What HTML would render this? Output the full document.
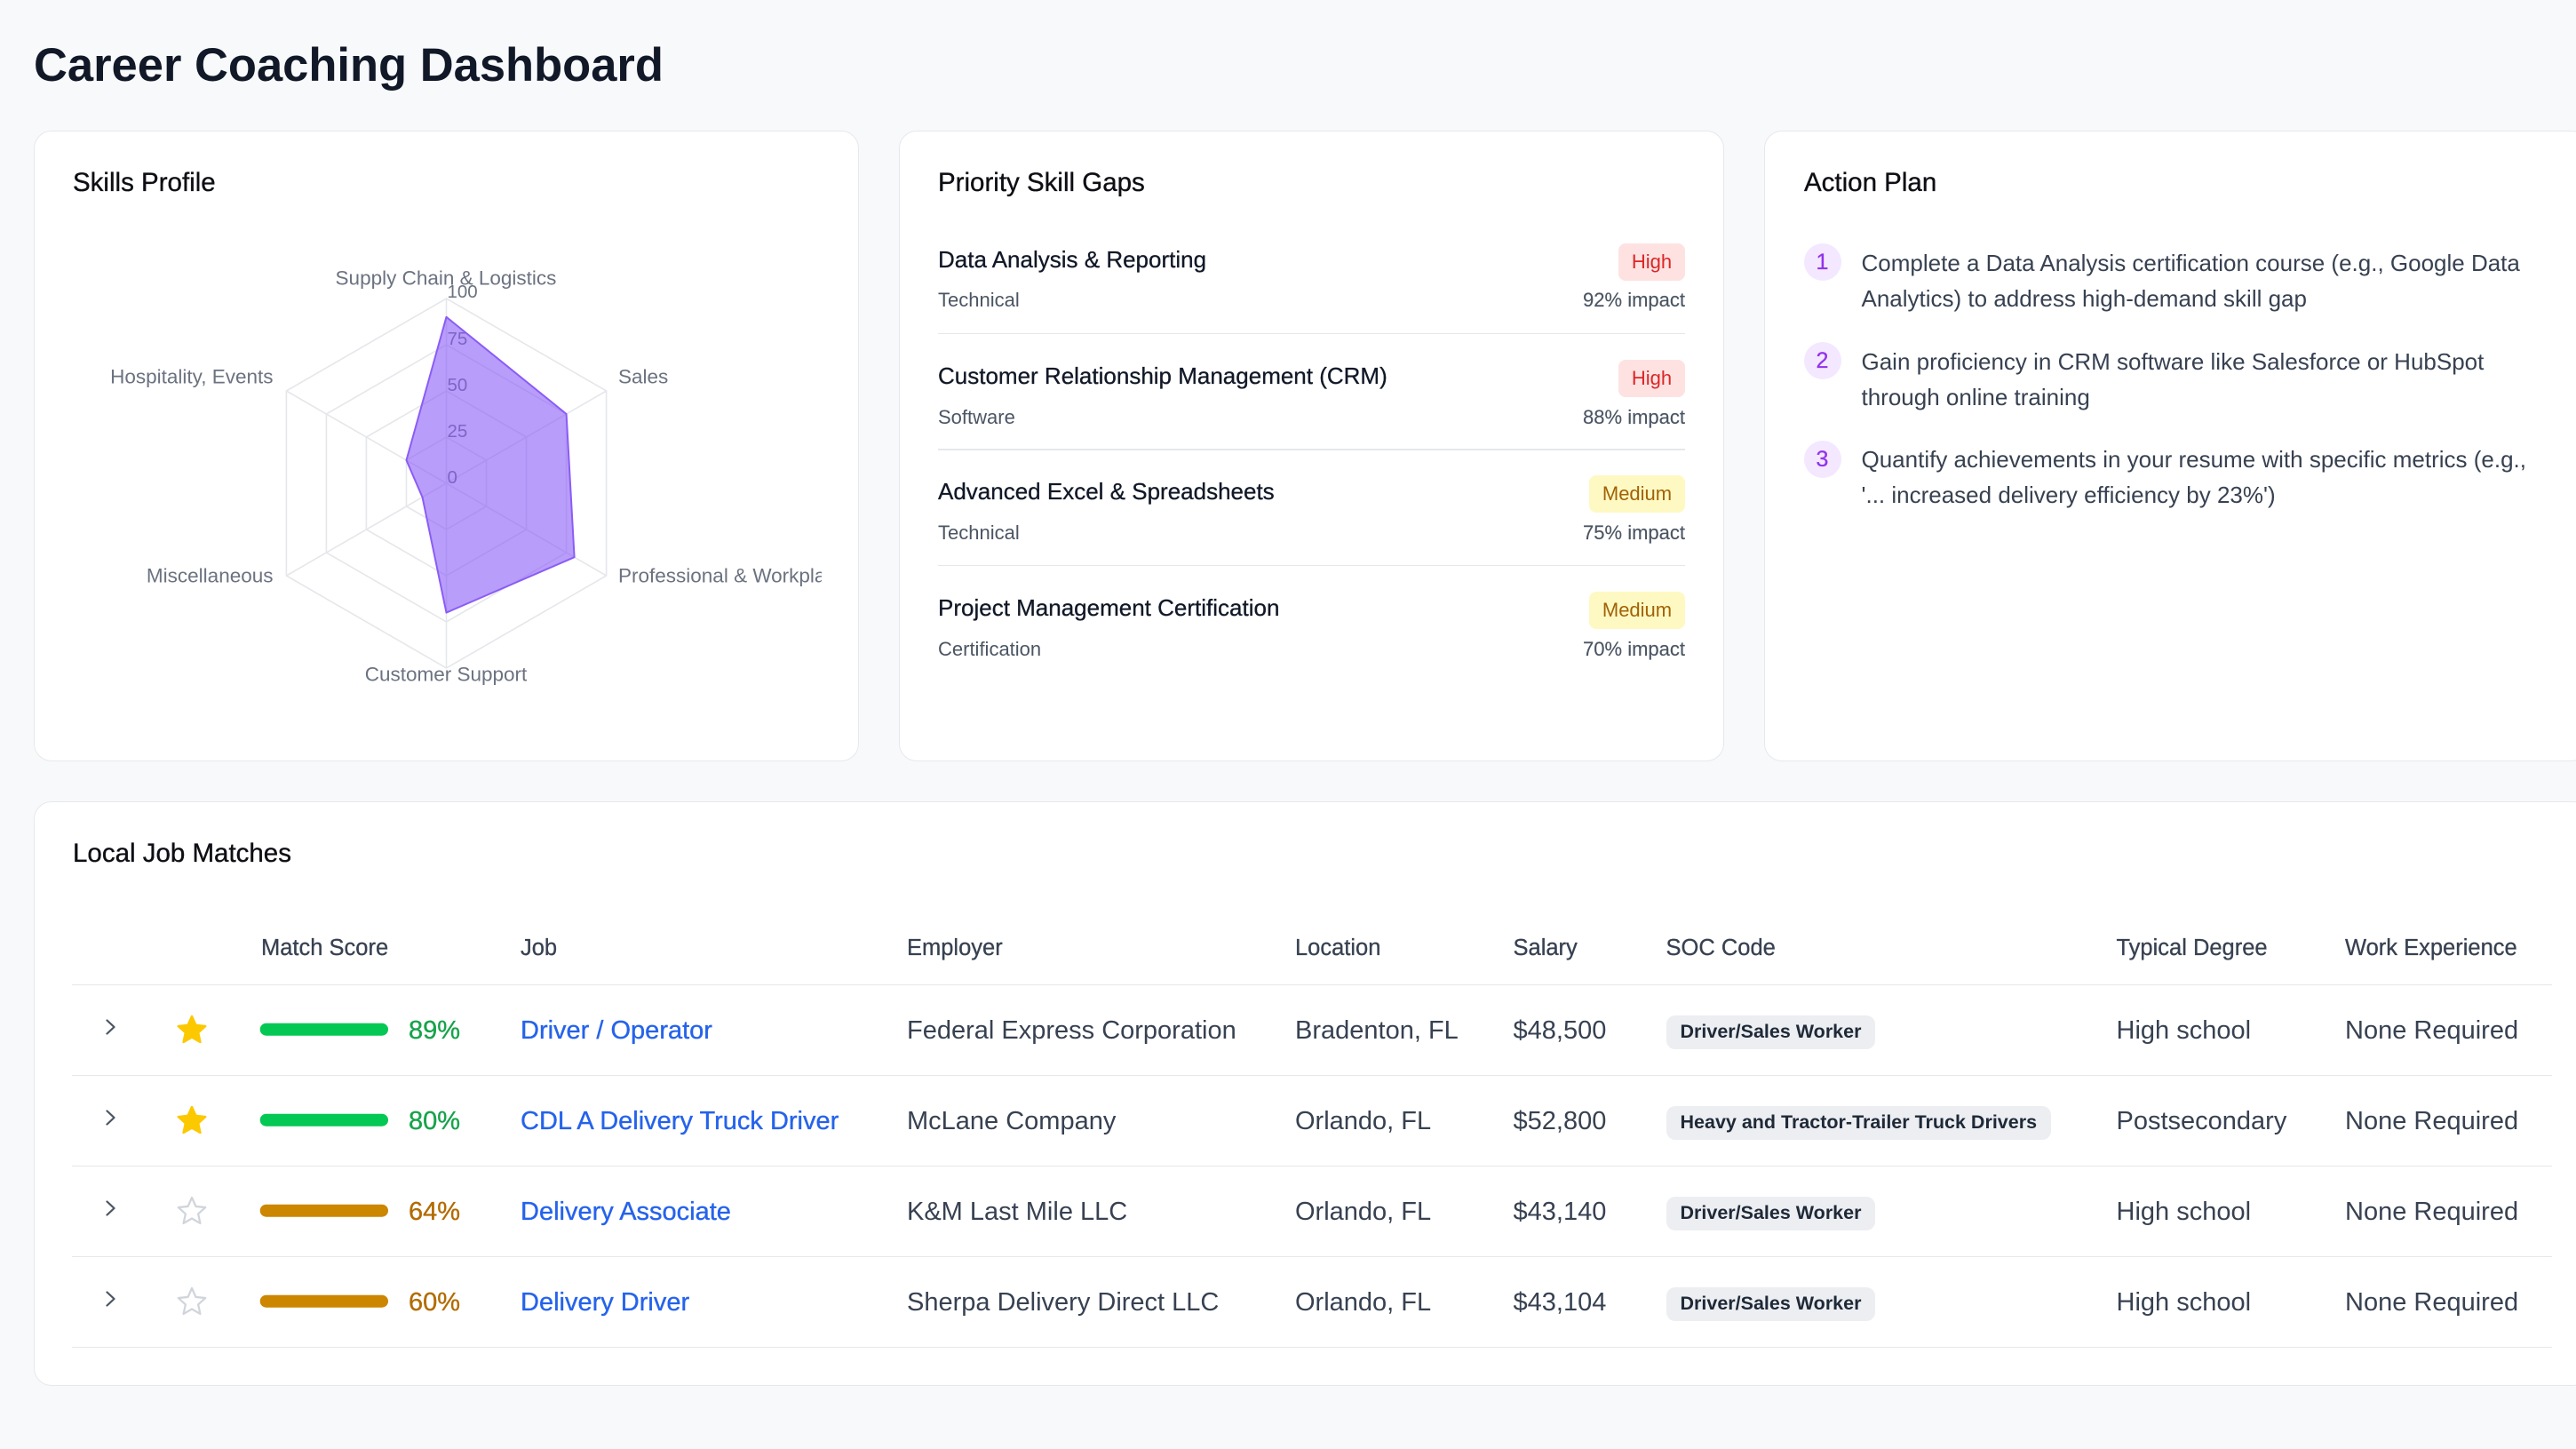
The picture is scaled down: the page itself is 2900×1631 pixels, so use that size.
<!DOCTYPE html>
<html>
<head>
<meta charset="utf-8">
<style>
  html, body { margin:0; padding:0; }
  body { width:2900px; height:1631px; overflow:hidden; background:#f8f9fb; position:relative;
         font-family:"Liberation Sans", sans-serif; }
  .abs { position:absolute; white-space:nowrap; line-height:1; }
  .card { position:absolute; box-sizing:border-box; background:#fff; border:1.5px solid #e6e8ec; border-radius:20px; }
  .ctitle { position:absolute; font-size:29.5px; line-height:1; color:#0d0f14; -webkit-text-stroke:0.35px #0d0f14; white-space:nowrap; }
  .gt { font-size:26px; color:#111827; -webkit-text-stroke:0.3px #111827; }
  .gs { font-size:22px; color:#4b5563; }
  .gi { font-size:22px; color:#4b5563; text-align:right; -webkit-text-stroke:0.15px #4b5563; }
  .badge { position:absolute; height:42px; line-height:42px; font-size:22px; text-align:center; border-radius:8px; }
  .high { background:#fee2e2; color:#dc2626; }
  .med { background:#fef9c3; color:#a16207; }
  .sep { position:absolute; height:1.5px; background:#e5e7eb; }
  .num { position:absolute; width:42px; height:42px; border-radius:50%; background:#f3e8ff; color:#9333ea;
         font-size:25px; line-height:42px; text-align:center; -webkit-text-stroke:0.3px #9333ea; }
  .ap { position:absolute; font-size:26px; line-height:40px; color:#374151; white-space:nowrap; }
  .th { font-size:25.5px; color:#374151; -webkit-text-stroke:0.3px #374151; }
  .td { font-size:29px; color:#374151; }
  .lnk { font-size:29px; color:#2563eb; -webkit-text-stroke:0.35px #2563eb; }
  .pg { font-size:29px; color:#16a34a; -webkit-text-stroke:0.35px #16a34a; }
  .po { font-size:29px; color:#b26b00; -webkit-text-stroke:0.35px #b26b00; }
  .soc { position:absolute; height:37.5px; line-height:37.5px; font-size:21.5px; font-weight:bold; color:#1f2937;
         background:#eceef2; border-radius:10px; padding:0 16px; white-space:nowrap; }
</style>
</head>
<body>

<div class="abs" style="left:38px; top:47.6px; font-size:52.5px; font-weight:bold; color:#111827;">Career Coaching Dashboard</div>

<!-- Cards -->
<div class="card" style="left:38px; top:147px; width:929px; height:710px;"></div>
<div class="card" style="left:1012px; top:147px; width:929px; height:710px;"></div>
<div class="card" style="left:1986px; top:147px; width:929px; height:710px;"></div>
<div class="card" style="left:38px; top:902px; width:2879px; height:658px;"></div>

<div class="ctitle" style="left:82px; top:191px;">Skills Profile</div>
<div class="ctitle" style="left:1056px; top:191px;">Priority Skill Gaps</div>
<div class="ctitle" style="left:2031px; top:191px;">Action Plan</div>
<div class="ctitle" style="left:82px; top:946px;">Local Job Matches</div>

<!-- Radar chart -->
<svg style="position:absolute; left:0; top:0;" width="925" height="857" viewBox="0 0 925 857" xmlns="http://www.w3.org/2000/svg">
  <g fill="none" stroke="#e5e7eb" stroke-width="1.6">
    <polygon points="502.5,336 682.6,440 682.6,648 502.5,752 322.4,648 322.4,440"/>
    <polygon points="502.5,388 637.6,466 637.6,622 502.5,700 367.4,622 367.4,466"/>
    <polygon points="502.5,440 592.6,492 592.6,596 502.5,648 412.4,596 412.4,492"/>
    <polygon points="502.5,492 547.5,518 547.5,570 502.5,596 457.5,570 457.5,518"/>
    <line x1="502.5" y1="544" x2="502.5" y2="336"/>
    <line x1="502.5" y1="544" x2="682.6" y2="440"/>
    <line x1="502.5" y1="544" x2="682.6" y2="648"/>
    <line x1="502.5" y1="544" x2="502.5" y2="752"/>
    <line x1="502.5" y1="544" x2="322.4" y2="648"/>
    <line x1="502.5" y1="544" x2="322.4" y2="440"/>
  </g>
  <g font-family="Liberation Sans, sans-serif" font-size="20.5" fill="#6b7280">
    <text x="503.5" y="335">100</text>
    <text x="503.5" y="388">75</text>
    <text x="503.5" y="440">50</text>
    <text x="503.5" y="492">25</text>
    <text x="503.5" y="544">0</text>
  </g>
  <polygon points="502.5,356.8 637.6,466 646.6,627.2 502.5,689.6 475.5,559.6 457.5,518"
           fill="rgba(139,92,246,0.6)" stroke="#8b5cf6" stroke-width="2" stroke-linejoin="round"/>
  <g font-family="Liberation Sans, sans-serif" font-size="22.5" fill="#6b7280">
    <text x="502" y="320.7" text-anchor="middle">Supply Chain &amp; Logistics</text>
    <text x="696" y="431.7">Sales</text>
    <text x="696" y="655.7">Professional &amp; Workplace Skills</text>
    <text x="502" y="766.7" text-anchor="middle">Customer Support</text>
    <text x="307.5" y="655.7" text-anchor="end">Miscellaneous</text>
    <text x="307.5" y="431.7" text-anchor="end">Hospitality, Events</text>
  </g>
</svg>

<!-- Priority Skill Gaps -->
<div class="abs gt" style="left:1056px; top:279px;">Data Analysis &amp; Reporting</div>
<div class="abs gs" style="left:1056px; top:327.4px;">Technical</div>
<div class="abs gi" style="left:1597px; width:300px; top:327.4px;">92% impact</div>
<div class="badge high" style="left:1822px; top:274px; width:75px;">High</div>
<div class="sep" style="left:1056px; top:374.5px; width:841px;"></div>

<div class="abs gt" style="left:1056px; top:410px;">Customer Relationship Management (CRM)</div>
<div class="abs gs" style="left:1056px; top:459.4px;">Software</div>
<div class="abs gi" style="left:1597px; width:300px; top:459.4px;">88% impact</div>
<div class="badge high" style="left:1822px; top:405px; width:75px;">High</div>
<div class="sep" style="left:1056px; top:505px; width:841px;"></div>

<div class="abs gt" style="left:1056px; top:540px;">Advanced Excel &amp; Spreadsheets</div>
<div class="abs gs" style="left:1056px; top:589.4px;">Technical</div>
<div class="abs gi" style="left:1597px; width:300px; top:589.4px;">75% impact</div>
<div class="badge med" style="left:1789px; top:535px; width:108px;">Medium</div>
<div class="sep" style="left:1056px; top:635.5px; width:841px;"></div>

<div class="abs gt" style="left:1056px; top:671px;">Project Management Certification</div>
<div class="abs gs" style="left:1056px; top:720.4px;">Certification</div>
<div class="abs gi" style="left:1597px; width:300px; top:720.4px;">70% impact</div>
<div class="badge med" style="left:1789px; top:666px; width:108px;">Medium</div>

<!-- Action Plan -->
<div class="num" style="left:2030.5px; top:274px;">1</div>
<div class="ap" style="left:2095.5px; top:275.6px;">Complete a Data Analysis certification course (e.g., Google Data<br>Analytics) to address high-demand skill gap</div>
<div class="num" style="left:2030.5px; top:385px;">2</div>
<div class="ap" style="left:2095.5px; top:386.5px;">Gain proficiency in CRM software like Salesforce or HubSpot<br>through online training</div>
<div class="num" style="left:2030.5px; top:496px;">3</div>
<div class="ap" style="left:2095.5px; top:497.4px;">Quantify achievements in your resume with specific metrics (e.g.,<br>'... increased delivery efficiency by 23%')</div>

<!-- Table header -->
<div class="abs th" style="left:294px; top:1055px;">Match Score</div>
<div class="abs th" style="left:586px; top:1055px;">Job</div>
<div class="abs th" style="left:1021px; top:1055px;">Employer</div>
<div class="abs th" style="left:1458px; top:1055px;">Location</div>
<div class="abs th" style="left:1703.5px; top:1055px;">Salary</div>
<div class="abs th" style="left:1875.5px; top:1055px;">SOC Code</div>
<div class="abs th" style="left:2382.5px; top:1055px;">Typical Degree</div>
<div class="abs th" style="left:2640px; top:1055px;">Work Experience</div>

<div class="sep" style="left:81px; top:1107.5px; width:2792px;"></div>
<div class="sep" style="left:81px; top:1209.5px; width:2792px;"></div>
<div class="sep" style="left:81px; top:1311.5px; width:2792px;"></div>
<div class="sep" style="left:81px; top:1413.5px; width:2792px;"></div>
<div class="sep" style="left:81px; top:1515.5px; width:2792px;"></div>

<!-- Table graphics -->
<svg style="position:absolute; left:0; top:0;" width="600" height="1631" viewBox="0 0 600 1631" xmlns="http://www.w3.org/2000/svg">
  <defs>
    <path id="star" d="M0,-16 L4.41,-6.07 L15.22,-4.94 L7.13,2.32 L9.40,12.94 L0,7.5 L-9.40,12.94 L-7.13,2.32 L-15.22,-4.94 L-4.41,-6.07 Z"/>
  </defs>
  <g fill="none" stroke="#4b5563" stroke-width="2.2" stroke-linecap="round" stroke-linejoin="round">
    <path d="M120.5,1148.5 L128.5,1156 L120.5,1163.5"/>
    <path d="M120.5,1250.5 L128.5,1258 L120.5,1265.5"/>
    <path d="M120.5,1352.5 L128.5,1360 L120.5,1367.5"/>
    <path d="M120.5,1454.5 L128.5,1462 L120.5,1469.5"/>
  </g>
  <use href="#star" x="216" y="1160" fill="#fcc800" stroke="#fcc800" stroke-width="2.5" stroke-linejoin="round"/>
  <use href="#star" x="216" y="1262" fill="#fcc800" stroke="#fcc800" stroke-width="2.5" stroke-linejoin="round"/>
  <use href="#star" x="216" y="1364" fill="none" stroke="#d1d5db" stroke-width="2.3" stroke-linejoin="round"/>
  <use href="#star" x="216" y="1466" fill="none" stroke="#d1d5db" stroke-width="2.3" stroke-linejoin="round"/>
  <rect x="292.7" y="1151.7" width="144.3" height="14" rx="7" fill="#03c853"/>
  <rect x="292.7" y="1253.7" width="144.3" height="14" rx="7" fill="#03c853"/>
  <rect x="292.7" y="1355.7" width="144.3" height="14" rx="7" fill="#cc8600"/>
  <rect x="292.7" y="1457.7" width="144.3" height="14" rx="7" fill="#cc8600"/>
</svg>

<!-- Row 1 -->
<div class="abs pg" style="left:460px; top:1145.5px;">89%</div>
<div class="abs lnk" style="left:586px; top:1145.5px;">Driver / Operator</div>
<div class="abs td" style="left:1021px; top:1145.5px;">Federal Express Corporation</div>
<div class="abs td" style="left:1458px; top:1145.5px;">Bradenton, FL</div>
<div class="abs td" style="left:1703.5px; top:1145.5px;">$48,500</div>
<div class="soc" style="left:1875.5px; top:1143.3px;">Driver/Sales Worker</div>
<div class="abs td" style="left:2382.5px; top:1145.5px;">High school</div>
<div class="abs td" style="left:2640px; top:1145.5px;">None Required</div>

<!-- Row 2 -->
<div class="abs pg" style="left:460px; top:1247.5px;">80%</div>
<div class="abs lnk" style="left:586px; top:1247.5px;">CDL A Delivery Truck Driver</div>
<div class="abs td" style="left:1021px; top:1247.5px;">McLane Company</div>
<div class="abs td" style="left:1458px; top:1247.5px;">Orlando, FL</div>
<div class="abs td" style="left:1703.5px; top:1247.5px;">$52,800</div>
<div class="soc" style="left:1875.5px; top:1245.3px;">Heavy and Tractor-Trailer Truck Drivers</div>
<div class="abs td" style="left:2382.5px; top:1247.5px;">Postsecondary</div>
<div class="abs td" style="left:2640px; top:1247.5px;">None Required</div>

<!-- Row 3 -->
<div class="abs po" style="left:460px; top:1349.5px;">64%</div>
<div class="abs lnk" style="left:586px; top:1349.5px;">Delivery Associate</div>
<div class="abs td" style="left:1021px; top:1349.5px;">K&amp;M Last Mile LLC</div>
<div class="abs td" style="left:1458px; top:1349.5px;">Orlando, FL</div>
<div class="abs td" style="left:1703.5px; top:1349.5px;">$43,140</div>
<div class="soc" style="left:1875.5px; top:1347.3px;">Driver/Sales Worker</div>
<div class="abs td" style="left:2382.5px; top:1349.5px;">High school</div>
<div class="abs td" style="left:2640px; top:1349.5px;">None Required</div>

<!-- Row 4 -->
<div class="abs po" style="left:460px; top:1451.5px;">60%</div>
<div class="abs lnk" style="left:586px; top:1451.5px;">Delivery Driver</div>
<div class="abs td" style="left:1021px; top:1451.5px;">Sherpa Delivery Direct LLC</div>
<div class="abs td" style="left:1458px; top:1451.5px;">Orlando, FL</div>
<div class="abs td" style="left:1703.5px; top:1451.5px;">$43,104</div>
<div class="soc" style="left:1875.5px; top:1449.3px;">Driver/Sales Worker</div>
<div class="abs td" style="left:2382.5px; top:1451.5px;">High school</div>
<div class="abs td" style="left:2640px; top:1451.5px;">None Required</div>

</body>
</html>
